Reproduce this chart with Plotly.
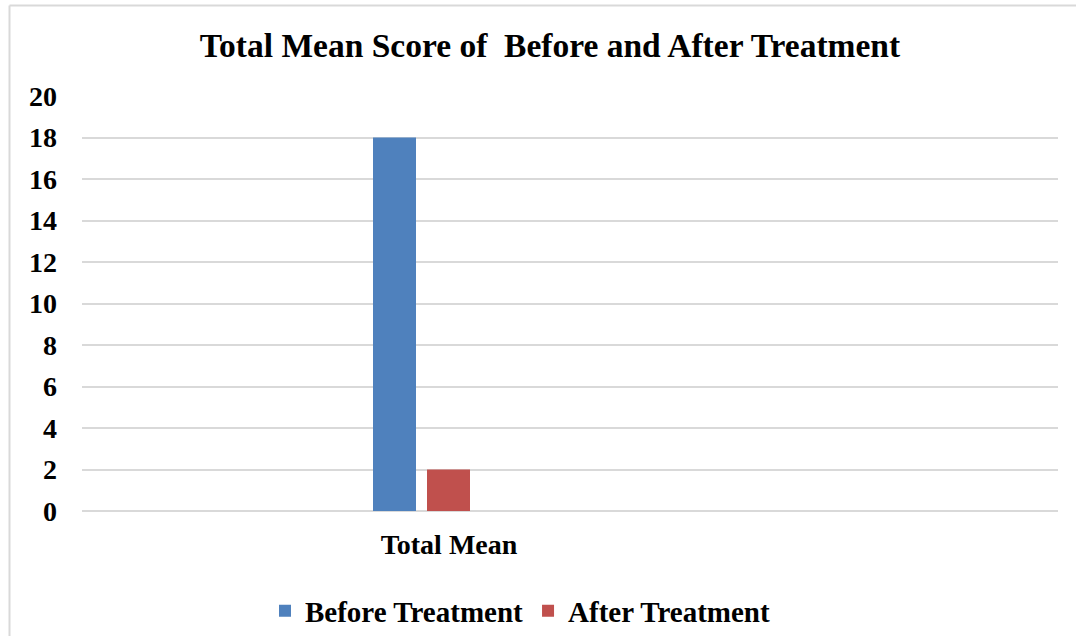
import plotly.graph_objects as go

# Chart data
categories = ["Total Mean"]
before_treatment = [18]
after_treatment = [2]
y_ticks = [0, 2, 4, 6, 8, 10, 12, 14, 16, 18, 20]

FONT = "Liberation Serif"
BLUE = "#4F81BD"
RED = "#C0504D"
GRID = "#D9D9D9"

W, H = 1076, 636
L, R, T, B = 82, 18, 96, 125
plot_w = W - L - R

# category axis: index 0 sits left of centre; one category unit spans 734 px
unit_px = 734.0
cat_center_px = 449.0
x_lo = -(cat_center_px - L) / unit_px
x_hi = (W - R - cat_center_px) / unit_px
bar_w = 43 / unit_px

fig = go.Figure()
fig.add_trace(go.Bar(
    x=categories, y=before_treatment, name="Before Treatment",
    marker=dict(color=BLUE, line=dict(width=0)),
    width=bar_w, offset=(373 - cat_center_px) / unit_px,
))
fig.add_trace(go.Bar(
    x=categories, y=after_treatment, name="After Treatment",
    marker=dict(color=RED, line=dict(width=0)),
    width=bar_w, offset=(427 - cat_center_px) / unit_px,
))

# outer chart frame (top and left edges)
fx = (9.5 - L) / plot_w
fy_top = 1 + (T - 5.5) / (H - T - B)
fig.add_shape(type="line", xref="paper", yref="paper", x0=fx, x1=1.5, y0=fy_top, y1=fy_top,
              line=dict(color="#D9D9D9", width=2))
fig.add_shape(type="line", xref="paper", yref="paper", x0=fx, x1=fx, y0=-1, y1=fy_top,
              line=dict(color="#D9D9D9", width=2))

fig.update_layout(
    width=W, height=H,
    margin=dict(l=L, r=R, t=T, b=B),
    paper_bgcolor="white", plot_bgcolor="white",
    barmode="group",
    font=dict(family=FONT, color="#000000"),
    title=dict(
        text="<b>Total Mean Score of  Before and After Treatment</b>",
        font=dict(family=FONT, size=33.5, color="#000000"),
        x=550 / W, xref="container", xanchor="center",
        y=1 - 45 / H, yref="container", yanchor="middle",
    ),
    xaxis=dict(
        range=[x_lo, x_hi], type="category",
        showgrid=False, zeroline=False, showline=False,
        ticks="outside", ticklen=0, tickcolor="white",
        ticklabelstandoff=8,
        tickfont=dict(family=FONT, size=28, color="#000000"),
        tickvals=categories,
        ticktext=["<b>" + c + "</b>" for c in categories],
    ),
    yaxis=dict(
        range=[0, 20],
        tickvals=y_ticks,
        ticktext=["<b>%d</b>" % v for v in y_ticks],
        showgrid=True, gridcolor=GRID, gridwidth=2,
        zeroline=True, zerolinecolor=GRID, zerolinewidth=2,
        showline=False, ticks="",
        ticklabelstandoff=24,
        tickfont=dict(family=FONT, size=28, color="#000000"),
    ),
    legend=dict(
        orientation="h",
        xref="container", x=520 / W, xanchor="center",
        yref="container", y=1 - 611 / H, yanchor="middle",
        font=dict(family=FONT, size=29, color="#000000"),
        itemwidth=30,
        traceorder="normal",
    ),
    showlegend=True,
)

fig.for_each_trace(lambda t: t.update(name="<b>" + t.name + "</b>"))

fig.write_html("out.html")
